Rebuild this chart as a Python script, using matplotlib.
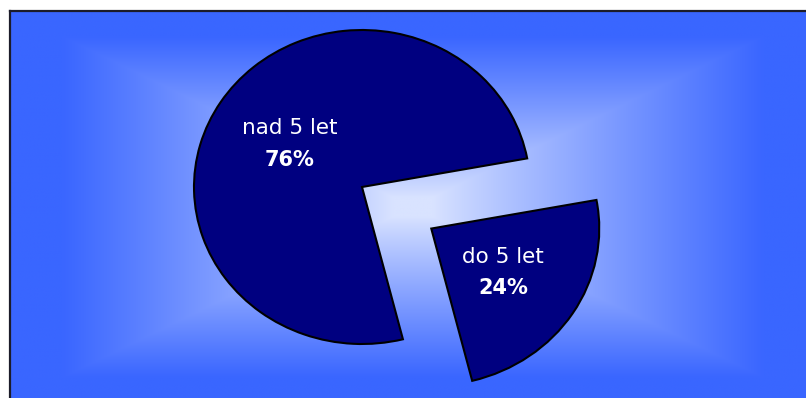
import numpy as np
import matplotlib
matplotlib.use("Agg")
import matplotlib.pyplot as plt
from matplotlib.colors import to_rgb

# ---- data ----
categories = ["do 5 let", "nad 5 let"]
values = [24, 76]
pct_labels = ["24%", "76%"]
explode = [0.49, 0.0]

W, H = 806, 398
fig = plt.figure(figsize=(W / 100, H / 100), dpi=100)
fig.patch.set_facecolor("white")

# ---- background panel with rectangular "from centre" gradient ----
left_px, top_px = 10, 11
bg = fig.add_axes([left_px / W, -0.012, 1 - left_px / W + 0.012, 1 - top_px / H + 0.012])
n = 500
u = np.linspace(-1, 1, n)
U, V = np.meshgrid(u, u)
t = np.maximum(np.abs(U), np.abs(V))
f = np.clip((t - 0.05) / 0.82, 0, 1) ** 0.9
c_center = np.array(to_rgb("#d9e3ff"))
c_edge = np.array(to_rgb("#3a66ff"))
img = c_center[None, None, :] + (c_edge - c_center)[None, None, :] * f[:, :, None]
bg.imshow(img, extent=(0, 1, 0, 1), aspect="auto", interpolation="bilinear")
bg.set_xlim(0, 1)
bg.set_ylim(0, 1)
bg.set_xticks([])
bg.set_yticks([])
for side in ["right", "bottom"]:
    bg.spines[side].set_visible(False)
for side in ["left", "top"]:
    bg.spines[side].set_color("#1c1c2a")
    bg.spines[side].set_linewidth(1.6)

# ---- pie ----
ax = fig.add_axes([0, 0, 1, 1])
ax.patch.set_alpha(0)
wedges, _ = ax.pie(values, explode=explode, startangle=10.5, counterclock=False,
                   colors=["#000080", "#000080"],
                   wedgeprops=dict(edgecolor="black", linewidth=1.5))
ax.set_aspect("auto")
cx_px, cy_px, rx_px, ry_px = 362, 187, 168, 157
ax.set_xlim(-cx_px / rx_px, (W - cx_px) / rx_px)
ax.set_ylim(-(H - cy_px) / ry_px, cy_px / ry_px)
ax.axis("off")

for w, name, pct in zip(wedges, categories, pct_labels):
    thm = np.deg2rad((w.theta1 + w.theta2) / 2)
    cx, cy = w.center
    px = cx + 0.51 * w.r * np.cos(thm)
    py = cy + 0.51 * w.r * np.sin(thm)
    ax.annotate(name, (px, py), xytext=(0, 11), textcoords="offset points",
                ha="center", va="center", color="white", fontsize=15.5,
                family="DejaVu Sans")
    ax.annotate(pct, (px, py), xytext=(0, -12), textcoords="offset points",
                ha="center", va="center", color="white", fontsize=15,
                fontweight="bold", family="DejaVu Sans")

fig.savefig("out.png", dpi=100)
